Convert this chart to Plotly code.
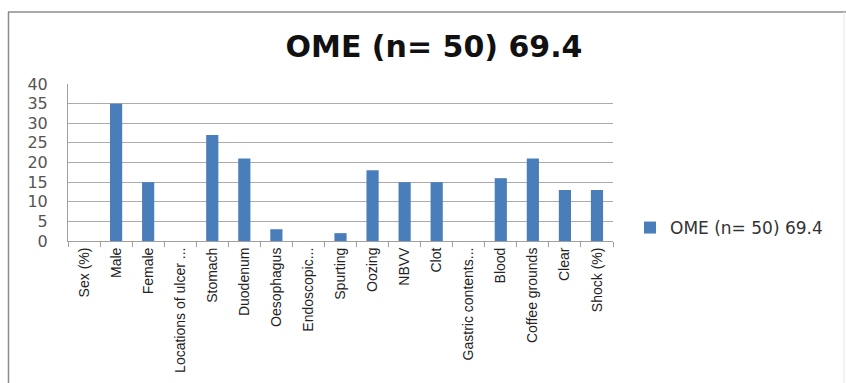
import plotly.graph_objects as go

categories = ["Sex (%)", "Male", "Female", "Locations of ulcer ...", "Stomach", "Duodenum",
              "Oesophagus", "Endoscopic...", "Spurting", "Oozing", "NBVV", "Clot",
              "Gastric contents...", "Blood", "Coffee grounds", "Clear", "Shock (%)"]
values = [0, 35, 15, 0, 27, 21, 3, 0, 2, 18, 15, 15, 0, 16, 21, 13, 13]
series_name = "OME (n= 50) 69.4"
y_ticks = [0, 5, 10, 15, 20, 25, 30, 35, 40]

W, H = 846, 383
L, R, T, B = 68, 233, 84, 142
pw, ph = W - L - R, H - T - B

def px_x(x):
    return (x - L) / pw

def px_y(y):
    return (H - B - y) / ph

fig = go.Figure()
fig.add_trace(go.Bar(x=categories, y=values, name=series_name,
                     marker=dict(color="#4A7EBB", line=dict(width=0))))

frame = [
    dict(type="line", xref="paper", yref="paper", x0=px_x(8), x1=px_x(846),
         y0=px_y(12), y1=px_y(12), line=dict(color="#8C8C8C", width=1.5), layer="below"),
    dict(type="line", xref="paper", yref="paper", x0=px_x(8.5), x1=px_x(8.5),
         y0=px_y(12), y1=px_y(390), line=dict(color="#8C8C8C", width=1.5), layer="below"),
    dict(type="line", xref="paper", yref="paper", x0=px_x(844), x1=px_x(844),
         y0=px_y(12), y1=px_y(390), line=dict(color="#E6E6E6", width=1), layer="below"),
]

fig.update_layout(
    width=W, height=H,
    margin=dict(l=L, r=R, t=T, b=B, autoexpand=False),
    paper_bgcolor="white", plot_bgcolor="white",
    bargap=0.62,
    font=dict(family="DejaVu Sans, sans-serif", color="#404040"),
    title=dict(text="<b>" + series_name + "</b>", x=434 / W, xanchor="center",
               y=1 - 46 / H, yanchor="middle",
               font=dict(size=30, color="#111111", family="DejaVu Sans, sans-serif")),
    showlegend=True,
    legend=dict(x=px_x(630), y=px_y(228), xanchor="left", yanchor="middle",
                font=dict(size=17, color="#333333", family="DejaVu Sans, sans-serif"),
                itemwidth=30, bgcolor="rgba(0,0,0,0)"),
    xaxis=dict(tickangle=-90, automargin=False,
               tickfont=dict(size=14, family="Liberation Sans, sans-serif", color="#222222"),
               showline=True, linecolor="#A0A0A0", linewidth=1,
               ticks="outside", tickson="boundaries", ticklen=5, tickcolor="#A0A0A0",
               showgrid=False),
    yaxis=dict(range=[0, 40], tickvals=y_ticks, showgrid=True, gridcolor="#ABABAB",
               automargin=False,
               gridwidth=1, showline=True, linecolor="#A0A0A0", zeroline=False,
               tickfont=dict(size=16, color="#555555", family="DejaVu Sans, sans-serif"),
               ticks="", ticklabelstandoff=16),
    shapes=frame,
)

fig.write_html("out.html")
